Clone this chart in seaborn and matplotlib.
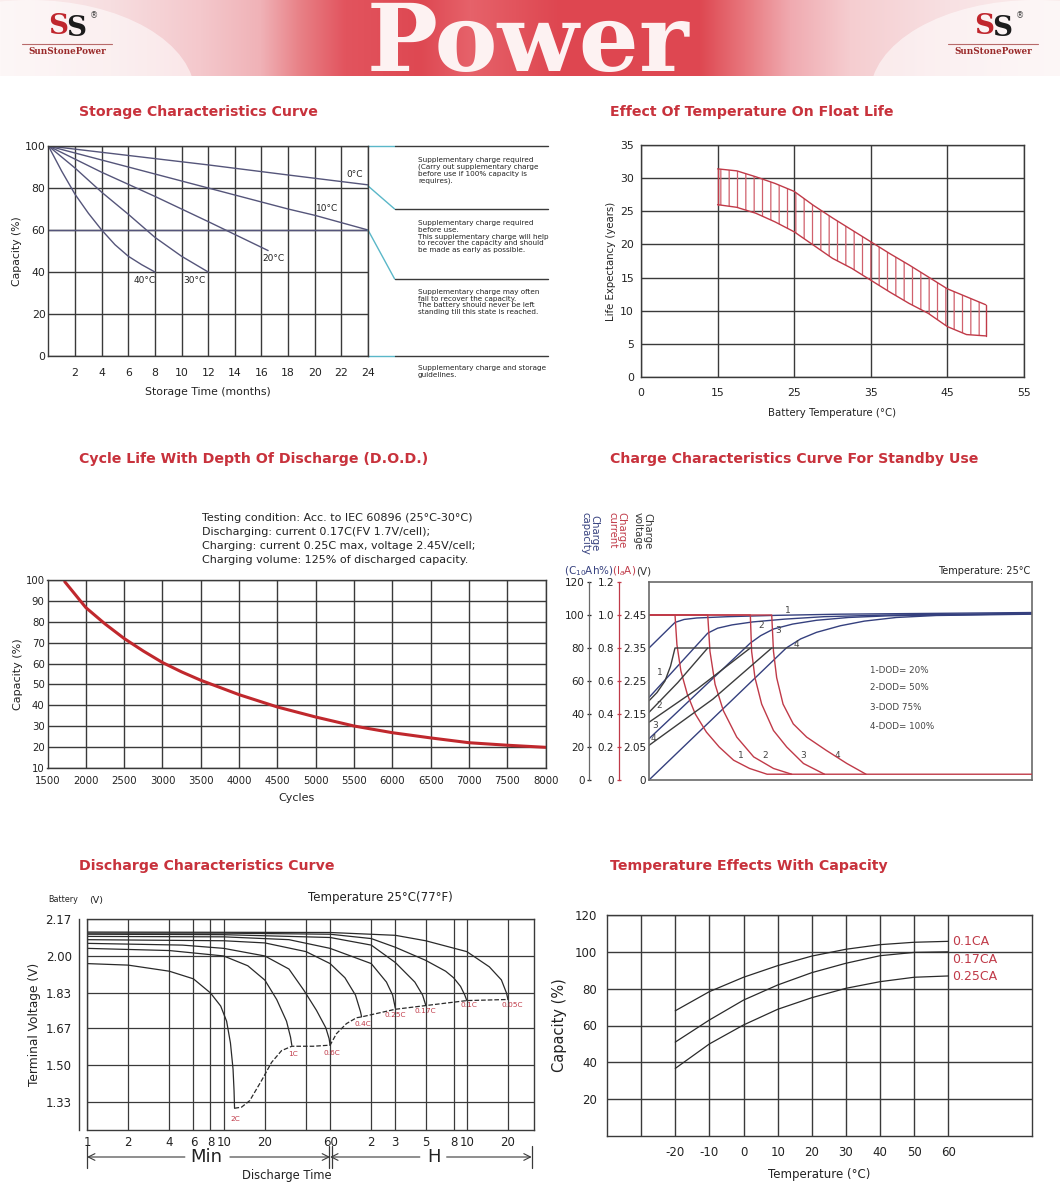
import numpy as np
import matplotlib
matplotlib.use("Agg")
import matplotlib.pyplot as plt
from matplotlib.patches import Ellipse
from matplotlib.ticker import NullLocator, NullFormatter
import seaborn as sns

# ---------------- Storage characteristics (months, capacity %) ----------------
storage_t_0c = [0, 6, 12, 18, 24]
storage_c_0c = [100, 95.5, 91, 86.2, 81.5]
storage_t_10c = [0, 6, 12, 18, 20, 24]
storage_c_10c = [100, 90, 80, 70, 67, 60]
storage_t_20c = [0, 4, 8, 12, 16.5]
storage_c_20c = [100, 87.5, 76, 64, 50.2]
storage_t_30c = [0, 2, 4, 6, 8, 10, 12]
storage_c_30c = [100, 89.5, 78, 67.5, 56.5, 47.5, 40]
storage_t_40c = [0, 1, 2, 3, 4, 5, 6, 7, 8]
storage_c_40c = [100, 88, 77, 68, 60, 53, 47.5, 43.5, 40]
storage_names = ["0°C", "10°C", "20°C", "30°C", "40°C"]
storage_guide_left = [100, 81, 60, 0]
storage_guide_right = [100, 70, 36.7, 0]
storage_notes = [
    "Supplementary charge required\n(Carry out supplementary charge\nbefore use if 100% capacity is\nrequires).",
    "Supplementary charge required\nbefore use.\nThis supplementary charge will help\nto recover the capacity and should\nbe made as early as possible.",
    "Supplementary charge may often\nfail to recover the capacity.\nThe battery should never be left\nstanding till this state is reached.",
    "Supplementary charge and storage\nguidelines.",
]

# ---------------- Float life (°C, years) ----------------
float_temp = [15, 17.5, 20, 22.5, 25, 27.5, 30, 32.5, 35, 37.5, 40, 42.5, 45, 47.5, 50]
float_upper = [31.4, 31.1, 30.2, 29.2, 28.0, 25.9, 24.0, 22.2, 20.4, 18.6, 16.9, 15.1, 13.3, 12.1, 10.9]
float_lower = [26.0, 25.6, 24.7, 23.4, 21.9, 19.9, 17.9, 16.4, 14.6, 12.8, 11.1, 9.6, 7.6, 6.4, 6.2]
float_xticklabels = ["0", "15", "25", "35", "45", "55"]

# ---------------- Cycle life ----------------
cycle_n = [1725, 2000, 2250, 2500, 2750, 3000, 3250, 3500, 4000, 4500, 5000, 5500, 6000, 6500, 7000, 7500, 8000]
cycle_cap = [99.2, 86.8, 79.0, 72.0, 66.0, 60.5, 56.0, 52.0, 45.1, 39.2, 34.4, 30.1, 26.9, 24.4, 22.1, 20.9, 19.9]
cycle_note = ["Testing condition: Acc. to IEC 60896 (25°C-30°C)",
              "Discharging: current 0.17C(FV 1.7V/cell);",
              "Charging: current 0.25C max, voltage 2.45V/cell;",
              "Charging volume: 125% of discharged capacity."]

# ---------------- Charge characteristics (hours) ----------------
charge_t_i1 = [0, 1.63, 1.75, 2.0, 2.4, 2.9, 3.6, 4.4, 5.3, 6.3, 7.4, 24]
charge_i1 = [1.0, 1.0, 0.82, 0.66, 0.52, 0.40, 0.29, 0.20, 0.12, 0.07, 0.035, 0.035]
charge_t_i2 = [0, 3.68, 3.82, 4.14, 4.66, 5.5, 6.56, 7.8, 8.94]
charge_i2 = [1.0, 1.0, 0.78, 0.58, 0.42, 0.26, 0.14, 0.07, 0.035]
charge_t_i3 = [0, 6.35, 6.43, 6.64, 7.06, 7.8, 8.63, 9.68, 11.0]
charge_i3 = [1.0, 1.0, 0.78, 0.62, 0.46, 0.30, 0.20, 0.10, 0.035]
charge_t_i4 = [0, 7.69, 7.8, 8.0, 8.4, 9.04, 9.88, 11.1, 12.4, 13.6]
charge_i4 = [1.0, 1.0, 0.78, 0.62, 0.46, 0.34, 0.26, 0.18, 0.10, 0.035]
charge_t_v1 = [0, 0.5, 1.0, 1.35, 1.63, 24]
charge_v1 = [2.19, 2.215, 2.25, 2.295, 2.35, 2.35]
charge_t_v2 = [0, 1.8, 3.68]
charge_v2 = [2.155, 2.245, 2.35]
charge_t_v3 = [0, 3.0, 6.35]
charge_v3 = [2.125, 2.225, 2.35]
charge_t_v4 = [0, 4.0, 7.69]
charge_v4 = [2.055, 2.195, 2.35]
charge_t_c1 = [0, 1.63, 2.2, 3.0, 5.0, 8.0, 12, 24]
charge_c1 = [80, 95.5, 97.3, 98.2, 99.0, 99.8, 100.5, 101.5]
charge_t_c2 = [0, 3.68, 4.3, 5.2, 6.5, 8.5, 11, 15, 24]
charge_c2 = [50, 89, 92, 94, 95.8, 97.5, 99, 100, 101]
charge_t_c3 = [0, 6.35, 7.0, 7.8, 9.0, 10.5, 12.5, 15, 24]
charge_c3 = [25, 83, 87.5, 91.5, 94.5, 96.8, 98.5, 99.5, 100.8]
charge_t_c4 = [0, 8.6, 9.5, 10.5, 12, 13.5, 15.5, 18, 24]
charge_c4 = [0, 80, 85.5, 89.5, 93.5, 96.3, 98.5, 99.7, 100.5]
charge_cap_ticks = [0, 20, 40, 60, 80, 100, 120]
charge_cur_ticks = [0, 0.2, 0.4, 0.6, 0.8, 1.0, 1.2]
charge_cur_labels = ["0", "0.2", "0.4", "0.6", "0.8", "1.0", "1.2"]
charge_volt_ticks = [1.95, 2.05, 2.15, 2.25, 2.35, 2.45]
charge_volt_labels = ["0", "2.05", "2.15", "2.25", "2.35", "2.45"]
charge_legend = ["1-DOD= 20%", "2-DOD= 50%", "3-DOD 75%", "4-DOD= 100%"]

# ---------------- Discharge characteristics (minutes, volts) ----------------
dis_t_2c = [1, 2, 4, 6, 8, 9.5, 10.5, 11.2, 11.7, 11.9, 12.0]
dis_v_2c = [1.965, 1.958, 1.93, 1.895, 1.83, 1.77, 1.70, 1.60, 1.48, 1.38, 1.30]
dis_t_1c = [1, 4, 10, 15, 20, 24.4, 28.8, 30.8, 31.5]
dis_v_1c = [2.035, 2.025, 2.0, 1.955, 1.889, 1.80, 1.70, 1.627, 1.589]
dis_t_06c = [1, 5, 10, 20, 30, 38.6, 47.7, 55.8, 59, 60]
dis_v_06c = [2.058, 2.05, 2.035, 2.0, 1.94, 1.842, 1.75, 1.67, 1.62, 1.59]
dis_t_04c = [1, 10, 20, 40, 60, 77, 92, 100, 102]
dis_v_04c = [2.075, 2.07, 2.06, 2.02, 1.965, 1.90, 1.82, 1.745, 1.72]
dis_t_025c = [1, 10, 30, 60, 120, 155, 172, 180]
dis_v_025c = [2.09, 2.088, 2.075, 2.035, 1.965, 1.88, 1.82, 1.76]
dis_t_017c = [1, 10, 60, 120, 180, 250, 285, 300]
dis_v_017c = [2.10, 2.098, 2.085, 2.05, 1.97, 1.88, 1.82, 1.775]
dis_t_01c = [1, 10, 60, 120, 180, 300, 420, 480, 540, 580, 600]
dis_v_01c = [2.105, 2.105, 2.10, 2.08, 2.04, 1.98, 1.93, 1.90, 1.86, 1.82, 1.795]
dis_t_005c = [1, 60, 180, 300, 600, 877, 1074, 1170, 1200]
dis_v_005c = [2.11, 2.108, 2.095, 2.07, 2.02, 1.95, 1.89, 1.83, 1.80]
dis_end_t = [12, 13.5, 15.5, 18.9, 22.4, 26.5, 31.5, 45, 60, 66.8, 79, 93.6, 102, 180, 300, 600, 1200]
dis_end_v = [1.30, 1.305, 1.335, 1.427, 1.511, 1.565, 1.585, 1.585, 1.59, 1.643, 1.689, 1.716, 1.72, 1.755, 1.772, 1.795, 1.80]
dis_rates = ["2C", "1C", "0.6C", "0.4C", "0.25C", "0.17C", "0.1C", "0.05C"]
dis_label_t = [12.2, 32, 62, 104, 180, 300, 620, 1290]
dis_label_v = [1.252, 1.55, 1.556, 1.685, 1.727, 1.745, 1.773, 1.773]
dis_xticks = [1, 2, 4, 6, 8, 10, 20, 40, 60, 120, 180, 300, 480, 600, 1200]
dis_xlabels = ["1", "2", "4", "6", "8", "10", "20", "", "60", "2", "3", "5", "8", "10", "20"]
dis_yticks = [1.33, 1.50, 1.67, 1.83, 2.00, 2.17]

# ---------------- Temperature effects with capacity ----------------
temp_c = [-20, -10, 0, 10, 20, 30, 40, 50, 60]
cap_01ca = [68, 78.4, 86.2, 92.5, 97.7, 101.4, 103.9, 105.2, 105.7]
cap_017ca = [51, 63, 73.8, 82, 88.7, 93.8, 97.9, 99.7, 100]
cap_025ca = [36.7, 50, 60.3, 68.8, 75.1, 80.2, 83.8, 86.2, 86.9]
temp_rate_names = ["0.1CA", "0.17CA", "0.25CA"]

# ---------------- style ----------------
sns.set_theme(style="white")
plt.rcParams['font.family'] = ['DejaVu Sans']
plt.rcParams['hatch.linewidth'] = 0.9
plt.rcParams['axes.unicode_minus'] = False

W, H = 1060, 1202
fig = plt.figure(figsize=(W / 100, H / 100), dpi=100, facecolor='white')

TITLE_C = '#c8323c'
GRID_C = '#3a3a3a'
TXT = '#222222'
CURVE = '#55557a'
RED = '#c03a48'
NAVY = '#35407e'


def rect(x0, y0, x1, y1):
    return [x0 / W, 1 - y1 / H, (x1 - x0) / W, (y1 - y0) / H]


def ftext(x, y, s, **kw):
    fig.text(x / W, 1 - y / H, s, **kw)


def line(ax, x, y, **kw):
    sns.lineplot(x=np.asarray(x, float), y=np.asarray(y, float), ax=ax,
                 estimator=None, sort=False, legend=False, **kw)


def frame(ax, color=GRID_C, lw=1.0):
    for s in ax.spines.values():
        s.set_visible(True)
        s.set_color(color)
        s.set_linewidth(lw)


# ---------------- header banner ----------------
axh = fig.add_axes(rect(0, 0, 1060, 76))
axh.set_xlim(0, 1060)
axh.set_ylim(76, 0)
axh.axis('off')
xs = np.arange(1060)
stops_x = [0, 110, 200, 260, 300, 345, 420, 470, 560, 700, 745, 790, 850, 950, 1060]
stops_c = [(251, 238, 238), (247, 222, 224), (244, 200, 204), (240, 178, 183), (232, 128, 134),
           (226, 84, 94), (222, 72, 82), (230, 98, 106), (222, 70, 80), (222, 72, 82),
           (232, 120, 126), (240, 170, 176), (245, 205, 208), (248, 225, 227), (251, 238, 238)]
grad = np.stack([np.interp(xs, stops_x, [c[i] for c in stops_c]) for i in range(3)], axis=-1) / 255.0
axh.imshow(np.repeat(grad[None, :, :], 2, axis=0), extent=[0, 1060, 76, 0], aspect='auto', zorder=0)
axh.add_patch(Ellipse((30, 95), 330, 190, color='white', alpha=0.55, lw=0, zorder=1))
axh.add_patch(Ellipse((1035, 95), 330, 190, color='white', alpha=0.55, lw=0, zorder=1))
axh.text(528, 71, 'Power', fontsize=68, family='DejaVu Serif', weight='bold',
         color='#fdf2f2', ha='center', va='baseline', zorder=3)


def logo(cx):
    axh.text(cx - 9, 27, 'S', fontsize=20, family='DejaVu Serif', weight='bold',
             color='#c0262d', ha='center', va='center', zorder=3)
    axh.text(cx + 9, 29, 'S', fontsize=20, family='DejaVu Serif', weight='bold',
             color='#1c1c1c', ha='center', va='center', zorder=4)
    axh.text(cx + 27, 16, '®', fontsize=6, color='#444444', ha='center', va='center', zorder=4)
    axh.plot([cx - 45, cx + 45], [44, 44], color='#b86a6a', lw=0.8, zorder=3)
    axh.text(cx, 52, 'SunStonePower', fontsize=6.3, family='DejaVu Serif', weight='bold',
             color='#9a2a2a', ha='center', va='center', zorder=3)


logo(67)
logo(993)

# ---------------- titles ----------------
for tx, ty, tt in [(79, 112, "Storage Characteristics Curve"),
                   (610, 112, "Effect Of Temperature On Float Life"),
                   (79, 459, "Cycle Life With Depth Of Discharge (D.O.D.)"),
                   (610, 459, "Charge Characteristics Curve For Standby Use"),
                   (79, 866, "Discharge Characteristics Curve"),
                   (610, 866, "Temperature Effects With Capacity")]:
    ftext(tx, ty, tt, color=TITLE_C, fontsize=10.2, weight='bold', va='center', ha='left')

# ---------------- storage panel ----------------
ax1 = fig.add_axes(rect(48.4, 146, 368, 356))
ax1.set_facecolor('none')
for t, c in [(storage_t_0c, storage_c_0c), (storage_t_10c, storage_c_10c),
             (storage_t_20c, storage_c_20c), (storage_t_30c, storage_c_30c),
             (storage_t_40c, storage_c_40c)]:
    line(ax1, t, c, color=CURVE, linewidth=1.0)
ax1.set_xlim(0, 24)
ax1.set_ylim(0, 100)
ax1.set_xticks(range(2, 25, 2))
ax1.set_yticks(range(0, 101, 20))
ax1.grid(True, color=GRID_C, lw=1.0)
ax1.axhline(60, color=CURVE, lw=1.0, zorder=2)
frame(ax1)
ax1.tick_params(length=0, labelsize=7.8, colors=TXT)
ax1.tick_params(axis='x', pad=9)
ax1.tick_params(axis='y', pad=2)
ax1.set_xlabel("Storage Time (months)", fontsize=7.8, color=TXT, labelpad=6)
ax1.set_ylabel("Capacity (%)", fontsize=7.8, color=TXT, labelpad=2)
for (lx, ly), nm in zip([(23, 86.5), (20.9, 70), (16.9, 46.5), (11, 36), (7.2, 36)], storage_names):
    ax1.text(lx, ly, nm, fontsize=6.5, color=TXT, ha='center', va='center')
for yl, yr in zip(storage_guide_left, storage_guide_right):
    ax1.plot([24, 26], [yl, yr], color='#5ab7c8', lw=1.0, clip_on=False)
    ax1.plot([26, 37.5], [yr, yr], color=GRID_C, lw=1.0, clip_on=False)
for ny, note in zip([157, 220, 289, 365], storage_notes):
    ftext(418, ny, note, fontsize=5.2, color=TXT, va='top', ha='left', linespacing=1.15)

# ---------------- float life panel ----------------
ax2 = fig.add_axes(rect(641, 145, 1024, 377))
ax2.fill_between(float_temp, float_lower, float_upper, facecolor='none',
                 edgecolor='#d0606c', hatch='||', linewidth=0)
line(ax2, float_temp, float_upper, color=RED, linewidth=1.0)
line(ax2, float_temp, float_lower, color=RED, linewidth=1.0)
ax2.plot([float_temp[0], float_temp[0]], [float_lower[0], float_upper[0]], color=RED, lw=1.0)
ax2.plot([float_temp[-1], float_temp[-1]], [float_lower[-1], float_upper[-1]], color=RED, lw=1.0)
ax2.set_xlim(5, 55)
ax2.set_ylim(0, 35)
ax2.set_xticks([5, 15, 25, 35, 45, 55])
ax2.set_xticklabels(float_xticklabels)
ax2.set_yticks(range(0, 36, 5))
ax2.grid(True, color=GRID_C, lw=1.0)
frame(ax2)
ax2.tick_params(length=0, labelsize=7.8, colors=TXT)
ax2.tick_params(axis='x', pad=8)
ax2.tick_params(axis='y', pad=5)
ax2.set_xlabel("Battery Temperature (°C)", fontsize=7.3, color=TXT, labelpad=7)
ax2.set_ylabel("Life Expectancy (years)", fontsize=7.3, color=TXT, labelpad=3)

# ---------------- cycle life panel ----------------
ax3 = fig.add_axes(rect(47.5, 580, 545.7, 768))
line(ax3, cycle_n, cycle_cap, color='#c0282d', linewidth=2.2)
ax3.set_xlim(1500, 8000)
ax3.set_ylim(10, 100)
ax3.set_xticks(range(1500, 8001, 500))
ax3.set_yticks(range(10, 101, 10))
ax3.grid(True, color=GRID_C, lw=1.0)
frame(ax3)
ax3.tick_params(length=0, labelsize=7.3, colors=TXT)
ax3.tick_params(axis='x', pad=6)
ax3.tick_params(axis='y', pad=2)
ax3.set_xlabel("Cycles", fontsize=8, color=TXT, labelpad=5)
ax3.set_ylabel("Capacity (%)", fontsize=8, color=TXT, labelpad=2)
for i, ln in enumerate(cycle_note):
    ftext(202, 518 + 14 * i, ln, fontsize=8, color=TXT, va='center', ha='left')

# ---------------- charge panel ----------------
axC = fig.add_axes(rect(649, 582, 1032, 780))
axC.set_facecolor('none')
for t, c in [(charge_t_c1, charge_c1), (charge_t_c2, charge_c2),
             (charge_t_c3, charge_c3), (charge_t_c4, charge_c4)]:
    line(axC, t, c, color=NAVY, linewidth=1.0)
axC.set_xlim(0, 24)
axC.set_ylim(0, 120)
axC.set_xticks([])
axC.set_yticks(charge_cap_ticks)
frame(axC, color='#6a6a6a', lw=1.2)
axC.spines['left'].set_position(('outward', 43))
axC.spines['left'].set_linewidth(0.9)
axC.tick_params(axis='y', length=3, width=0.9, direction='inout', labelsize=7.5, colors=TXT, pad=2)

axI = axC.twinx()
for t, i in [(charge_t_i1, charge_i1), (charge_t_i2, charge_i2),
             (charge_t_i3, charge_i3), (charge_t_i4, charge_i4)]:
    line(axI, t, i, color=RED, linewidth=1.0)
axI.set_xlim(0, 24)
axI.set_ylim(0, 1.2)
axI.yaxis.set_ticks_position('left')
axI.yaxis.set_label_position('left')
for s in ['top', 'right', 'bottom']:
    axI.spines[s].set_visible(False)
axI.spines['left'].set_visible(True)
axI.spines['left'].set_position(('outward', 21.5))
axI.spines['left'].set_color(RED)
axI.spines['left'].set_linewidth(0.9)
axI.set_yticks(charge_cur_ticks)
axI.set_yticklabels(charge_cur_labels)
axI.tick_params(axis='y', length=3, width=0.9, direction='inout', labelsize=7.5, colors=TXT,
                pad=2, color=RED)

axV = axC.twinx()
for t, v in [(charge_t_v1, charge_v1), (charge_t_v2, charge_v2),
             (charge_t_v3, charge_v3), (charge_t_v4, charge_v4)]:
    line(axV, t, v, color='#3c3c3c', linewidth=1.0)
axV.set_xlim(0, 24)
axV.set_ylim(1.95, 2.55)
axV.yaxis.set_ticks_position('left')
for s in ['top', 'right', 'bottom']:
    axV.spines[s].set_visible(False)
axV.spines['left'].set_visible(True)
axV.spines['left'].set_color('#6a6a6a')
axV.spines['left'].set_linewidth(1.2)
axV.set_yticks(charge_volt_ticks)
axV.set_yticklabels(charge_volt_labels)
axV.tick_params(axis='y', length=0, labelsize=7.5, colors=TXT, pad=2)

for lbl, (lt, lu) in zip("1234", [(0.69, 65), (0.65, 45.4), (0.38, 33.3), (0.27, 25.3)]):
    axC.text(lt, lu, lbl, fontsize=6.5, color='#444444', ha='center', va='center')
for lbl, (lt, lu) in zip("1234", [(8.69, 103), (7.06, 93.4), (8.1, 90.4), (9.25, 82.4)]):
    axC.text(lt, lu, lbl, fontsize=6.5, color='#444444', ha='center', va='center')
for lbl, lt in zip("1234", [5.76, 7.27, 9.67, 11.82]):
    axC.text(lt, 14.7, lbl, fontsize=6.5, color='#444444', ha='center', va='center')
for k, ly in enumerate([670.7, 688, 707, 726.5]):
    ftext(870, ly, charge_legend[k], fontsize=6.3, color='#444444', va='center', ha='left')

ftext(590, 512, "Charge\ncapacity", rotation=-90, color=NAVY, fontsize=7.3,
      ha='center', va='top', linespacing=0.95)
ftext(617, 512, "Charge\ncurrent", rotation=-90, color=RED, fontsize=7.3,
      ha='center', va='top', linespacing=0.95)
ftext(643, 512, "Charge\nvoltage", rotation=-90, color='#333333', fontsize=7.3,
      ha='center', va='top', linespacing=0.95)
ftext(564, 571, "(C$_{10}$Ah%)", color=NAVY, fontsize=7.5, ha='left', va='center')
ftext(612, 571, "(I$_{a}$A)", color=RED, fontsize=7.5, ha='left', va='center')
ftext(636, 571, "(V)", color='#333333', fontsize=7.5, ha='left', va='center')
ftext(1030, 571, "Temperature: 25°C", color=TXT, fontsize=7, ha='right', va='center')

# ---------------- discharge panel ----------------
ax5 = fig.add_axes(rect(87, 919, 534, 1130))
ax5.set_xscale('log')
for t, v in [(dis_t_2c, dis_v_2c), (dis_t_1c, dis_v_1c), (dis_t_06c, dis_v_06c),
             (dis_t_04c, dis_v_04c), (dis_t_025c, dis_v_025c), (dis_t_017c, dis_v_017c),
             (dis_t_01c, dis_v_01c), (dis_t_005c, dis_v_005c)]:
    line(ax5, t, v, color='#2a2a2a', linewidth=0.9)
line(ax5, dis_end_t, dis_end_v, color='#2a2a2a', linewidth=0.9, linestyle='--')
for nm, lt, lv in zip(dis_rates, dis_label_t, dis_label_v):
    ax5.text(lt, lv, nm, fontsize=5.3, color=RED, ha='center', va='center')
ax5.set_xlim(1, 1860)
ax5.set_ylim(1.20, 2.17)
ax5.set_xticks(dis_xticks)
ax5.set_xticklabels(dis_xlabels)
ax5.xaxis.set_minor_locator(NullLocator())
ax5.xaxis.set_minor_formatter(NullFormatter())
ax5.set_yticks(dis_yticks)
ax5.set_yticklabels([f"{v:.2f}" for v in dis_yticks])
ax5.grid(True, which='major', color=GRID_C, lw=0.9)
frame(ax5, lw=1.0)
ax5.spines['left'].set_position(('outward', 6))
ax5.axvline(1, color=GRID_C, lw=1.0, clip_on=False)
ax5.tick_params(axis='y', length=4, width=0.9, direction='out', labelsize=8.5, colors=TXT, pad=1)
ax5.tick_params(axis='x', length=0, labelsize=8.5, colors=TXT, pad=4)
ax5.set_ylabel("Terminal Voltage (V)", fontsize=8.8, color=TXT, labelpad=3)
trans = ax5.get_xaxis_transform()
yr = (1130 - 1157) / 211.0
for x0, x1 in [(5.2, 1), (11.1, 60), (272, 60), (427, 1790)]:
    ax5.annotate('', xy=(x1, yr), xytext=(x0, yr), xycoords=trans, textcoords=trans,
                 arrowprops=dict(arrowstyle='->', lw=0.8, color=GRID_C, shrinkA=0, shrinkB=0),
                 annotation_clip=False)
for xb in [1, 58.5, 61.5, 1790]:
    ax5.plot([xb, xb], [yr - 0.05, yr + 0.05], transform=trans, color=GRID_C, lw=0.9, clip_on=False)
ax5.text(7.5, yr, "Min", transform=trans, fontsize=13, color=TXT, ha='center', va='center')
ax5.text(344, yr, "H", transform=trans, fontsize=13, color=TXT, ha='center', va='center')
ftext(287, 1175, "Discharge Time", fontsize=8.3, color=TXT, ha='center', va='center')
ftext(48, 900, "Battery", fontsize=5.8, color=TXT, ha='left', va='center')
ftext(89, 900, "(V)", fontsize=6.8, color=TXT, ha='left', va='center')
ftext(380, 898, "Temperature 25°C(77°F)", fontsize=8.5, color=TXT, ha='center', va='center')

# ---------------- temperature vs capacity panel ----------------
ax6 = fig.add_axes(rect(607, 915, 1032, 1136))
for cap in [cap_01ca, cap_017ca, cap_025ca]:
    line(ax6, temp_c, cap, color='#2a2a2a', linewidth=0.9)
for nm, ly in zip(temp_rate_names, [105.5, 96, 86.5]):
    ax6.text(61, ly, nm, fontsize=9, color=RED, ha='left', va='center')
ax6.set_xlim(-40, 84.5)
ax6.set_ylim(0, 120)
ax6.set_xticks(range(-30, 61, 10))
ax6.set_xticklabels(["" if v == -30 else str(v) for v in range(-30, 61, 10)])
ax6.set_yticks(range(20, 121, 20))
ax6.grid(True, color=GRID_C, lw=1.0)
frame(ax6)
ax6.tick_params(length=0, labelsize=8.5, colors=TXT)
ax6.tick_params(axis='x', pad=7)
ax6.tick_params(axis='y', pad=7)
ax6.set_xlabel("Temperature (°C)", fontsize=8.5, color=TXT, labelpad=7)
ax6.set_ylabel("Capacity (%)", fontsize=10.5, color=TXT, labelpad=6)

fig.savefig("out.png", dpi=100, facecolor='white')
